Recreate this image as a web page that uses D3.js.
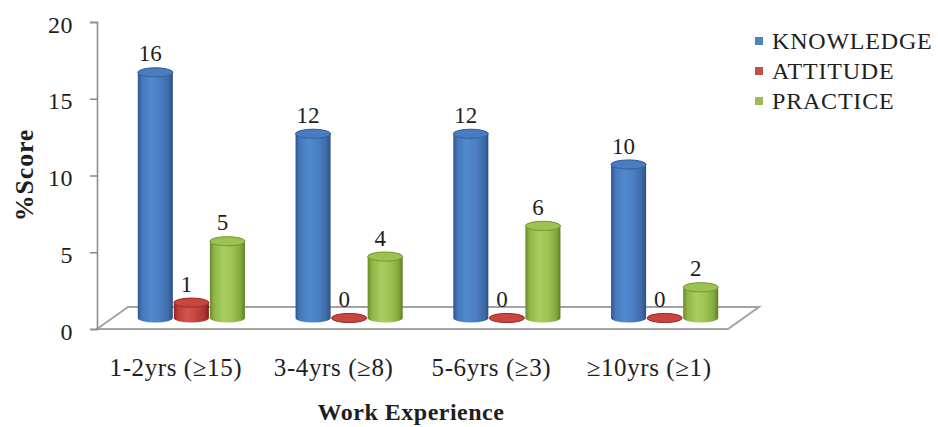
<!DOCTYPE html>
<html>
<head>
<meta charset="utf-8">
<script src="https://cdn.jsdelivr.net/npm/d3@7"></script>
<style>
  body { margin: 0; background: #fff; }
</style>
</head>
<body>
<svg id="chart" width="938" height="427"></svg>
<script>
// Work experience groups and KAP scores
const categories = ["1-2yrs (≥15)", "3-4yrs (≥8)", "5-6yrs (≥3)", "≥10yrs (≥1)"];
const seriesNames = ["KNOWLEDGE", "ATTITUDE", "PRACTICE"];
const knowledge = [16, 12, 12, 10];
const attitude = [1, 0, 0, 0];
const practice = [5, 4, 6, 2];
const yTicks = [0, 5, 10, 15, 20];

const seriesValues = { KNOWLEDGE: knowledge, ATTITUDE: attitude, PRACTICE: practice };
const FONT = "font-family:'Liberation Serif','Times New Roman',serif;fill:#1e1e1e;";

const svg = d3.select("#chart");

// Front plane of the 3D plot area and the depth offset of the floor
const plotLeft = 97, plotRight = 728, plotBottom = 329, plotTop = 22;
const depthX = 31, depthY = -22;

const y = d3.scaleLinear().domain([0, 20]).range([plotBottom, plotTop]);
const x = d3.scaleBand().domain(categories).range([plotLeft, plotRight]);
const xs = d3.scaleBand().domain(seriesNames).range([0, x.bandwidth()])
  .paddingInner(0).paddingOuter(0.6875);

// Gradient shading for each cylinder colour
const palettes = {
  KNOWLEDGE: { stops: ["#2f5690", "#4577bb", "#5189cf", "#4a7ec2", "#3d6aa7", "#2c4f84"], cap: "#4a7dc0", rim: "#33609c", swatch: "#4f81bd" },
  ATTITUDE:  { stops: ["#8a2624", "#bd3e3a", "#d2554f", "#c4443f", "#a9322e", "#7e211f"], cap: "#c8463f", rim: "#9a2c29", swatch: "#c0504d" },
  PRACTICE:  { stops: ["#6a8a2c", "#8fb545", "#a9ce62", "#9cc353", "#84a83c", "#5f7d27"], cap: "#9cc352", rim: "#739732", swatch: "#9bbb59" }
};
const stopOffsets = [0, 0.12, 0.38, 0.65, 0.88, 1];

const defs = svg.append("defs");
seriesNames.forEach(s => {
  const g = defs.append("linearGradient").attr("id", "grad-" + s)
    .attr("x1", "0").attr("x2", "1").attr("y1", "0").attr("y2", "0");
  palettes[s].stops.forEach((c, i) => g.append("stop").attr("offset", stopOffsets[i]).attr("stop-color", c));
});

// Floor
const floorPts = [
  [plotLeft, plotBottom], [plotLeft + depthX, plotBottom + depthY],
  [plotRight + depthX, plotBottom + depthY], [plotRight, plotBottom]
];
svg.append("polygon")
  .attr("points", floorPts.map(p => p.join(",")).join(" "))
  .attr("fill", "#fff").attr("stroke", "#a3a3a3").attr("stroke-width", 2);

// Y axis
const yAxis = svg.append("g").attr("transform", `translate(${plotLeft},0)`)
  .call(d3.axisLeft(y).tickValues(yTicks).tickSize(7).tickPadding(17).tickFormat(d3.format("d")));
yAxis.select(".domain").attr("stroke", "#8c8c8c").attr("stroke-width", 1.6);
yAxis.selectAll(".tick line").attr("stroke", "#8c8c8c").attr("stroke-width", 1.6);
yAxis.selectAll(".tick text")
  .attr("style", FONT + "font-size:24px;letter-spacing:0.5px")
  .attr("dy", "0.42em");

// X axis labels
const xAxis = svg.append("g").attr("transform", `translate(0,${plotBottom})`)
  .call(d3.axisBottom(x).tickSize(0).tickPadding(29));
xAxis.select(".domain").remove();
xAxis.selectAll(".tick text")
  .attr("style", FONT + "font-size:25px;letter-spacing:0.6px");

// Cylinders
const rx = xs.bandwidth() / 2 - 0.5;
const ry = 4.6;
const bars = [];
categories.forEach((c, ci) => {
  seriesNames.forEach(s => {
    const v = seriesValues[s][ci];
    const cx = x(c) + xs(s) + xs.bandwidth() / 2 + depthX / 2;
    bars.push({ c, s, v, cx, base: y(0) + depthY / 2, topY: y(v) + depthY / 2 });
  });
});

const barG = svg.append("g");
bars.forEach(b => {
  const x0 = b.cx - rx, x1 = b.cx + rx;
  const body = `M${x0},${b.topY} L${x0},${b.base} A${rx},${ry} 0 0 0 ${x1},${b.base} L${x1},${b.topY} A${rx},${ry} 0 0 0 ${x0},${b.topY} Z`;
  barG.append("path").attr("d", body)
    .attr("fill", `url(#grad-${b.s})`);
  barG.append("ellipse")
    .attr("cx", b.cx).attr("cy", b.topY).attr("rx", rx).attr("ry", ry)
    .attr("fill", palettes[b.s].cap).attr("stroke", palettes[b.s].rim).attr("stroke-width", 1);
});

// Value labels
svg.append("g").selectAll("text").data(bars).join("text")
  .attr("x", d => d.cx - 5)
  .attr("y", d => d.topY - 11)
  .attr("text-anchor", "middle")
  .attr("style", FONT + "font-size:23px")
  .text(d => d.v);

// Axis titles
svg.append("text")
  .attr("transform", "translate(24,175) rotate(-90)")
  .attr("text-anchor", "middle").attr("dy", "0.35em")
  .attr("style", FONT + "font-size:26px;font-weight:bold;letter-spacing:0.8px")
  .text("%Score");

svg.append("text")
  .attr("x", 411).attr("y", 420)
  .attr("text-anchor", "middle")
  .attr("style", FONT + "font-size:24px;font-weight:bold;letter-spacing:0.5px")
  .text("Work Experience");

// Legend
const legend = svg.append("g").attr("transform", "translate(755,41)");
const rows = legend.selectAll("g").data(seriesNames).join("g")
  .attr("transform", (d, i) => `translate(0,${i * 30})`);
rows.append("rect").attr("x", 0).attr("y", -4).attr("width", 8).attr("height", 8)
  .attr("fill", d => palettes[d].swatch);
rows.append("text").attr("x", 17).attr("y", 0).attr("dy", "0.35em")
  .attr("style", FONT + "font-size:24px;letter-spacing:0.8px")
  .text(d => d);
</script>
</body>
</html>
